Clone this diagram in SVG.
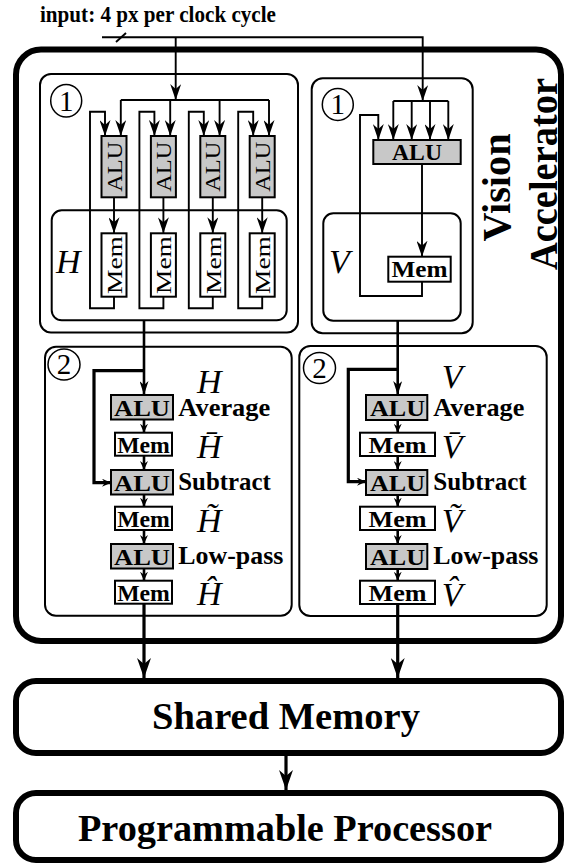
<svg xmlns="http://www.w3.org/2000/svg" width="564" height="864" viewBox="0 0 564 864">
  <style>
    .thick { fill: #fff; stroke: #000; stroke-width: 6; }
    .panel { fill: none; stroke: #000; stroke-width: 2; }
    .alu { fill: #c8c8c8; stroke: #000; stroke-width: 2; }
    .mem { fill: #fff; stroke: #000; stroke-width: 2; }
    .w { fill: none; stroke: #000; stroke-width: 1.9; }
    .w2 { fill: none; stroke: #000; stroke-width: 2.6; }
    .w3 { fill: none; stroke: #000; stroke-width: 3.2; }
    .ring { fill: none; stroke: #000; stroke-width: 1.5; }
    text { font-family: "Liberation Serif", "Times New Roman", serif; fill: #000; }
    .b { font-weight: bold; }
    .it { font-style: italic; font-size: 34px; }
    .num { font-size: 29px; text-anchor: middle; }
    .mid { text-anchor: middle; }
  </style>
  <defs>
    <marker id="big" markerUnits="userSpaceOnUse" markerWidth="20" markerHeight="14" viewBox="0 0 20 14" refX="20" refY="7" orient="auto">
      <path d="M0,0 L20,7 L0,14 L6,7 z" fill="#000"/>
    </marker>
    <marker id="mid" markerUnits="userSpaceOnUse" markerWidth="16" markerHeight="11" viewBox="0 0 16 11" refX="16" refY="5.5" orient="auto">
      <path d="M0,0 L16,5.5 L0,11 L5,5.5 z" fill="#000"/>
    </marker>
    <marker id="in2" markerUnits="userSpaceOnUse" markerWidth="14" markerHeight="9" viewBox="0 0 14 9" refX="14" refY="4.5" orient="auto">
      <path d="M0,0 L14,4.5 L0,9 L4,4.5 z" fill="#000"/>
    </marker>
    <marker id="sm" markerUnits="userSpaceOnUse" markerWidth="9" markerHeight="8" viewBox="0 0 9 8" refX="9" refY="4" orient="auto">
      <path d="M0,0 L9,4 L0,8 L3,4 z" fill="#000"/>
    </marker>
  </defs>

  <!-- input label -->
  <text class="b" x="40" y="22" font-size="23" textLength="236" lengthAdjust="spacingAndGlyphs">input: 4 px per clock cycle</text>

  <!-- Vision Accelerator enclosure -->
  <g id="vision-accelerator">
    <rect class="thick" x="16" y="49.5" width="545" height="591.5" rx="25"/>
    <text class="b mid" font-size="40" textLength="108" lengthAdjust="spacingAndGlyphs" transform="translate(510,187.5) rotate(-90)">Vision</text>
    <text class="b mid" font-size="39" textLength="192" lengthAdjust="spacingAndGlyphs" transform="translate(556.5,174) rotate(-90)">Accelerator</text>
  </g>

  <!-- stage 1, horizontal -->
  <g id="stage1-h">
    <rect class="panel" x="40" y="74" width="258" height="258.5" rx="11"/>
    <ellipse class="ring" cx="66.2" cy="100.7" rx="15.5" ry="16.3"/>
    <text class="num" x="66.2" y="110.5">1</text>
    <rect class="panel" x="51.7" y="210.3" width="235" height="110" rx="10"/>
    <text class="it" x="56" y="272.5">H</text>
  </g>
  <g id="h-alus">
    <rect class="alu" x="101.5" y="136" width="25" height="61.3"/>
    <rect class="alu" x="150.9" y="136" width="25" height="61.3"/>
    <rect class="alu" x="200.3" y="136" width="25" height="61.3"/>
    <rect class="alu" x="249.7" y="136" width="25" height="61.3"/>
    <g font-size="21" text-anchor="middle">
      <text textLength="50" lengthAdjust="spacingAndGlyphs" transform="translate(121.5,166.7) rotate(-90)">ALU</text>
      <text textLength="50" lengthAdjust="spacingAndGlyphs" transform="translate(170.9,166.7) rotate(-90)">ALU</text>
      <text textLength="50" lengthAdjust="spacingAndGlyphs" transform="translate(220.3,166.7) rotate(-90)">ALU</text>
      <text textLength="50" lengthAdjust="spacingAndGlyphs" transform="translate(269.7,166.7) rotate(-90)">ALU</text>
    </g>
  </g>
  <g id="h-mems">
    <rect class="mem" x="101.5" y="233.3" width="25" height="63.4"/>
    <rect class="mem" x="150.9" y="233.3" width="25" height="63.4"/>
    <rect class="mem" x="200.3" y="233.3" width="25" height="63.4"/>
    <rect class="mem" x="249.7" y="233.3" width="25" height="63.4"/>
    <g font-size="22" text-anchor="middle">
      <text textLength="58" lengthAdjust="spacingAndGlyphs" transform="translate(121.8,265) rotate(-90)">Mem</text>
      <text textLength="58" lengthAdjust="spacingAndGlyphs" transform="translate(171.2,265) rotate(-90)">Mem</text>
      <text textLength="58" lengthAdjust="spacingAndGlyphs" transform="translate(220.6,265) rotate(-90)">Mem</text>
      <text textLength="58" lengthAdjust="spacingAndGlyphs" transform="translate(270,265) rotate(-90)">Mem</text>
    </g>
  </g>

  <!-- stage 1, vertical -->
  <g id="stage1-v">
    <rect class="panel" x="311.7" y="78.3" width="161" height="255" rx="11"/>
    <ellipse class="ring" cx="337.8" cy="104.5" rx="15.5" ry="16"/>
    <text class="num" x="337.8" y="114.3">1</text>
    <rect class="panel" x="323.3" y="213.3" width="137.4" height="107.4" rx="10"/>
    <text class="it" x="329" y="272.5">V</text>
  </g>
  <g id="v-alu">
    <rect class="alu" x="373.3" y="140" width="87.4" height="24"/>
    <text class="b mid" x="417" y="159.5" font-size="23" textLength="50" lengthAdjust="spacingAndGlyphs">ALU</text>
  </g>
  <g id="v-mem">
    <rect class="mem" x="388.3" y="256.7" width="62.4" height="25"/>
    <text class="b mid" x="419.5" y="277" font-size="22.5" textLength="56" lengthAdjust="spacingAndGlyphs">Mem</text>
  </g>

  <!-- stage 2, horizontal -->
  <g id="stage2-h">
    <rect class="panel" x="45" y="346.7" width="246.7" height="269" rx="11"/>
    <ellipse class="ring" cx="64" cy="364.5" rx="16" ry="15.5"/>
    <text class="num" x="64" y="374.3">2</text>
  </g>
  <g id="h-average">
    <rect class="alu" x="111" y="395" width="62" height="24.5"/>
    <text class="b mid" x="142" y="416" font-size="24" textLength="56" lengthAdjust="spacingAndGlyphs">ALU</text>
    <text class="b" x="178.3" y="416" font-size="25" textLength="92" lengthAdjust="spacingAndGlyphs">Average</text>
    <text class="it" x="197" y="393" font-size="33">H</text>
  </g>
  <g id="h-mean">
    <rect class="mem" x="115" y="432.7" width="57" height="23"/>
    <text class="b mid" x="143.5" y="453.3" font-size="23" textLength="52.7" lengthAdjust="spacingAndGlyphs">Mem</text>
    <text class="it" x="197" y="458.3">H̄</text>
  </g>
  <g id="h-subtract">
    <rect class="alu" x="111" y="470" width="62" height="24.5"/>
    <text class="b mid" x="142" y="491" font-size="24" textLength="56" lengthAdjust="spacingAndGlyphs">ALU</text>
    <text class="b" x="178.3" y="490" font-size="25" textLength="92.4" lengthAdjust="spacingAndGlyphs">Subtract</text>
  </g>
  <g id="h-diff">
    <rect class="mem" x="115" y="506.7" width="57" height="23.3"/>
    <text class="b mid" x="143.5" y="527.3" font-size="23" textLength="52.7" lengthAdjust="spacingAndGlyphs">Mem</text>
    <text class="it" x="197" y="532">H̃</text>
  </g>
  <g id="h-lowpass">
    <rect class="alu" x="111" y="544" width="62" height="24.5"/>
    <text class="b mid" x="142" y="565" font-size="24" textLength="56" lengthAdjust="spacingAndGlyphs">ALU</text>
    <text class="b" x="178.3" y="564" font-size="25" textLength="105" lengthAdjust="spacingAndGlyphs">Low-pass</text>
  </g>
  <g id="h-filtered">
    <rect class="mem" x="115" y="580.7" width="57" height="23"/>
    <text class="b mid" x="143.5" y="601.3" font-size="23" textLength="52.7" lengthAdjust="spacingAndGlyphs">Mem</text>
    <text class="it" x="197" y="605">Ĥ</text>
  </g>

  <!-- stage 2, vertical -->
  <g id="stage2-v">
    <rect class="panel" x="299.3" y="346" width="247.4" height="270" rx="11"/>
    <ellipse class="ring" cx="319.5" cy="368" rx="16" ry="15.5"/>
    <text class="num" x="319.5" y="377.8">2</text>
  </g>
  <g id="v-average">
    <rect class="alu" x="366" y="395" width="61.3" height="25"/>
    <text class="b mid" x="397.5" y="416" font-size="24" textLength="55" lengthAdjust="spacingAndGlyphs">ALU</text>
    <text class="b" x="433.3" y="416" font-size="25" textLength="91" lengthAdjust="spacingAndGlyphs">Average</text>
    <text class="it" x="441.7" y="388">V</text>
  </g>
  <g id="v-mean">
    <rect class="mem" x="360" y="432.7" width="75" height="23.3"/>
    <text class="b mid" x="397.5" y="453.3" font-size="23" textLength="58" lengthAdjust="spacingAndGlyphs">Mem</text>
    <text class="it" x="441.7" y="458.3">V̄</text>
  </g>
  <g id="v-subtract">
    <rect class="alu" x="366" y="470" width="61.3" height="25"/>
    <text class="b mid" x="397.5" y="491" font-size="24" textLength="55" lengthAdjust="spacingAndGlyphs">ALU</text>
    <text class="b" x="433.3" y="490" font-size="25" textLength="93.4" lengthAdjust="spacingAndGlyphs">Subtract</text>
  </g>
  <g id="v-diff">
    <rect class="mem" x="360" y="506.7" width="75" height="23.3"/>
    <text class="b mid" x="397.5" y="527.3" font-size="23" textLength="58" lengthAdjust="spacingAndGlyphs">Mem</text>
    <text class="it" x="441.7" y="531.7">Ṽ</text>
  </g>
  <g id="v-lowpass">
    <rect class="alu" x="366" y="544" width="61.3" height="25"/>
    <text class="b mid" x="397.5" y="565" font-size="24" textLength="55" lengthAdjust="spacingAndGlyphs">ALU</text>
    <text class="b" x="433.3" y="564" font-size="25" textLength="105" lengthAdjust="spacingAndGlyphs">Low-pass</text>
  </g>
  <g id="v-filtered">
    <rect class="mem" x="360" y="580.7" width="75" height="23.3"/>
    <text class="b mid" x="397.5" y="601.3" font-size="23" textLength="58" lengthAdjust="spacingAndGlyphs">Mem</text>
    <text class="it" x="441.7" y="606">V̂</text>
  </g>

  <!-- shared memory and processor -->
  <g id="shared-memory">
    <rect class="thick" x="16" y="681" width="545" height="72" rx="20"/>
    <text class="b mid" x="286" y="729" font-size="38.5" textLength="268" lengthAdjust="spacingAndGlyphs">Shared Memory</text>
  </g>
  <g id="programmable-processor">
    <rect class="thick" x="16" y="793" width="545" height="67" rx="20"/>
    <text class="b mid" x="285" y="841" font-size="38.5" textLength="414" lengthAdjust="spacingAndGlyphs">Programmable Processor</text>
  </g>

  <!-- wires -->
  <g id="connectors">
    <!-- 4-pixel input bus with width tick -->
    <path class="w" d="M102,37.3 H422.7 V101" marker-end="url(#mid)"/>
    <path class="w" d="M116,42 L126,33"/>
    <path class="w" d="M175.7,37.3 V100" marker-end="url(#mid)"/>

    <!-- horizontal stage: fan-out bus -->
    <path class="w" d="M120.8,100 H269"/>
    <path class="w" d="M120.8,100 V136" marker-end="url(#mid)"/>
    <path class="w" d="M170.2,100 V136" marker-end="url(#mid)"/>
    <path class="w" d="M219.6,100 V136" marker-end="url(#mid)"/>
    <path class="w" d="M269,100 V136" marker-end="url(#mid)"/>

    <!-- horizontal stage: ALU to Mem -->
    <path class="w" d="M114,197.3 V233.3" marker-end="url(#mid)"/>
    <path class="w" d="M163.4,197.3 V233.3" marker-end="url(#mid)"/>
    <path class="w" d="M212.8,197.3 V233.3" marker-end="url(#mid)"/>
    <path class="w" d="M262.2,197.3 V233.3" marker-end="url(#mid)"/>

    <!-- horizontal stage: feedback loops -->
    <path class="w" d="M114,296.7 V308.3 H90 V111.7 H105 V136" marker-end="url(#mid)"/>
    <path class="w" d="M163.4,296.7 V308.3 H139.4 V111.7 H154.4 V136" marker-end="url(#mid)"/>
    <path class="w" d="M212.8,296.7 V308.3 H188.8 V111.7 H203.8 V136" marker-end="url(#mid)"/>
    <path class="w" d="M262.2,296.7 V308.3 H238.2 V111.7 H253.2 V136" marker-end="url(#mid)"/>

    <!-- vertical stage -->
    <path class="w" d="M393.3,101 H448.3"/>
    <path class="w" d="M393.3,101 V140" marker-end="url(#mid)"/>
    <path class="w" d="M411.7,101 V140" marker-end="url(#mid)"/>
    <path class="w" d="M430,101 V140" marker-end="url(#mid)"/>
    <path class="w" d="M448.3,101 V140" marker-end="url(#mid)"/>
    <path class="w" d="M422,164 V256.7" marker-end="url(#mid)"/>
    <path class="w" d="M422,281.7 V296 H360 V115 H378.3 V140" marker-end="url(#mid)"/>

    <!-- stage 1 to stage 2 -->
    <path class="w2" d="M144,320.3 V395" marker-end="url(#in2)"/>
    <path class="w2" d="M397.7,320.7 V395" marker-end="url(#in2)"/>

    <!-- stage 2 horizontal chain -->
    <path class="w3" d="M144,370.7 H94 V482.7 H111" marker-end="url(#sm)"/>
    <path class="w2" d="M144,419.5 V432.7" marker-end="url(#sm)"/>
    <path class="w2" d="M144,455.7 V470" marker-end="url(#sm)"/>
    <path class="w2" d="M144,494.5 V506.7" marker-end="url(#sm)"/>
    <path class="w2" d="M144,530 V544" marker-end="url(#sm)"/>
    <path class="w2" d="M144,568.5 V580.7" marker-end="url(#sm)"/>

    <!-- stage 2 vertical chain -->
    <path class="w3" d="M397.7,369.3 H348.3 V481.7 H366" marker-end="url(#sm)"/>
    <path class="w2" d="M397.7,420 V432.7" marker-end="url(#sm)"/>
    <path class="w2" d="M397.7,456 V470" marker-end="url(#sm)"/>
    <path class="w2" d="M397.7,495 V506.7" marker-end="url(#sm)"/>
    <path class="w2" d="M397.7,530 V544" marker-end="url(#sm)"/>
    <path class="w2" d="M397.7,569 V580.7" marker-end="url(#sm)"/>

    <!-- results to shared memory, then to processor -->
    <path class="w3" d="M144,603.7 V678" marker-end="url(#big)"/>
    <path class="w3" d="M397.7,604 V678" marker-end="url(#big)"/>
    <path class="w3" d="M286,756 V790" marker-end="url(#big)"/>
  </g>
</svg>
